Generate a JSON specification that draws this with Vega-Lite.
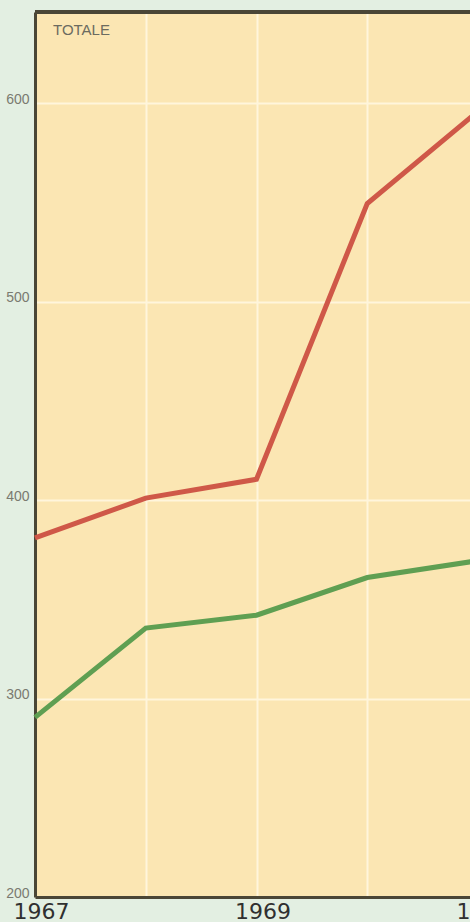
{
  "$schema": "https://vega.github.io/schema/vega-lite/v6.json",
  "width": 443,
  "height": 885,
  "autosize": {"type": "none"},
  "padding": {"left": 35, "top": 12, "right": -8, "bottom": 25},
  "background": "#e3efe2",
  "config": {
    "view": {"fill": "#fbe6b3", "stroke": null},
    "font": "DejaVu Sans"
  },
  "data": {
    "values": [
      {"anno": 1967, "valore": 381, "serie": "rossa"},
      {"anno": 1968, "valore": 401, "serie": "rossa"},
      {"anno": 1969, "valore": 410.5, "serie": "rossa"},
      {"anno": 1970, "valore": 549.5, "serie": "rossa"},
      {"anno": 1971, "valore": 596, "serie": "rossa"},
      {"anno": 1967, "valore": 290.5, "serie": "verde"},
      {"anno": 1968, "valore": 335.5, "serie": "verde"},
      {"anno": 1969, "valore": 342, "serie": "verde"},
      {"anno": 1970, "valore": 361, "serie": "verde"},
      {"anno": 1971, "valore": 369.5, "serie": "verde"}
    ]
  },
  "layer": [
    {
      "mark": {"type": "line", "strokeWidth": 5, "strokeJoin": "miter", "strokeCap": "butt"},
      "encoding": {
        "x": {
          "field": "anno",
          "type": "quantitative",
          "scale": {"domain": [1967, 1971], "nice": false, "zero": false},
          "axis": {
            "title": null,
            "values": [1967, 1968, 1969, 1970, 1971],
            "format": "d",
            "labelExpr": "datum.value % 2 == 1 ? datum.label : ''",
            "grid": true,
            "gridColor": "#fff5dc",
            "gridWidth": 2,
            "ticks": false,
            "domain": true,
            "domainColor": "#4a4636",
            "domainWidth": 3,
            "labelFont": "DejaVu Sans",
            "labelFontSize": 22,
            "labelColor": "#303030",
            "labelOffset": 6,
            "labelPadding": 4,
            "labelFlush": false,
            "labelBound": false,
            "labelOverlap": false
          }
        },
        "y": {
          "field": "valore",
          "type": "quantitative",
          "scale": {"domain": [200, 646], "nice": false, "zero": false},
          "axis": {
            "title": null,
            "values": [200, 300, 400, 500, 600],
            "grid": true,
            "gridColor": "#fff5dc",
            "gridWidth": 2,
            "ticks": false,
            "domain": true,
            "domainColor": "#4a4636",
            "domainWidth": 3,
            "labelFont": "Liberation Sans",
            "labelFontSize": 14,
            "labelColor": "#7a7a70",
            "labelPadding": 6,
            "labelOffset": -4,
            "labelOverlap": false,
            "labelFlush": false
          }
        },
        "color": {
          "field": "serie",
          "type": "nominal",
          "scale": {"domain": ["rossa", "verde"], "range": ["#cf5848", "#5f9f52"]},
          "legend": null
        }
      }
    },
    {
      "mark": {"type": "rule", "color": "#4a4636", "strokeWidth": 3},
      "encoding": {"y": {"datum": 646}}
    },
    {
      "data": {"values": [{"anno": 1967, "valore": 646, "testo": "TOTALE"}]},
      "mark": {"type": "text", "align": "left", "baseline": "top", "dx": 18, "dy": 11, "fontSize": 15, "font": "Liberation Sans", "color": "#6b6b60"},
      "encoding": {
        "x": {"field": "anno", "type": "quantitative"},
        "y": {"field": "valore", "type": "quantitative"},
        "text": {"field": "testo"}
      }
    }
  ]
}
